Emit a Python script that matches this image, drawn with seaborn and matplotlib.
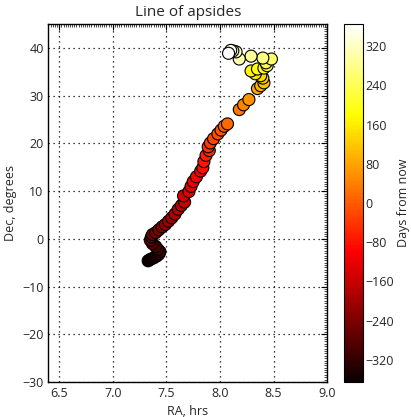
import numpy as np
import pandas as pd
import seaborn as sns
import matplotlib.pyplot as plt
from matplotlib.ticker import MultipleLocator
from matplotlib.colors import Normalize
from matplotlib.cm import ScalarMappable

# posicoes (RA em horas, Dec em graus) e dias
ra = [7.33, 7.35, 7.38, 7.41, 7.43, 7.44, 7.42, 7.40, 7.37, 7.35, 7.36, 7.37, 7.40, 7.43, 7.46, 7.49, 7.52,
      7.55, 7.58, 7.61, 7.64, 7.67, 7.66, 7.71, 7.73, 7.75, 7.78, 7.82, 7.84, 7.85, 7.87, 7.90, 7.89, 7.91, 7.94, 7.98,
      8.01, 8.04, 8.07, 8.18, 8.22, 8.27, 8.35, 8.38, 8.41, 8.40, 8.38, 8.33, 8.29, 8.35, 8.41,
      8.44, 8.43, 8.48, 8.40, 8.29, 8.18, 8.15, 8.12, 8.10, 8.08]
dec = [-4.6, -4.3, -4.0, -3.6, -3.2, -2.7, -2.2, -1.6, -1.0, -0.3, 0.4, 0.9, 1.3, 1.9, 2.5, 3.0, 3.7,
       4.4, 5.2, 6.2, 7.0, 7.7, 9.0, 9.9, 11.0, 12.0, 13.0, 14.2, 14.9, 16.2, 17.5, 18.5, 19.3, 20.1, 21.0, 22.0,
       22.8, 23.6, 24.1, 27.1, 28.1, 29.2, 31.5, 32.1, 32.7, 33.7, 34.2, 34.6, 35.2, 35.6, 35.8,
       36.3, 36.9, 37.7, 37.9, 38.3, 37.7, 39.2, 39.4, 39.5, 38.9]
days = [-365, -355, -345, -335, -325, -315, -305, -295, -285, -275, -265, -255, -245, -235, -225, -215, -205,
        -195, -185, -175, -165, -155, -145, -135, -125, -115, -105, -95, -85, -75, -65, -55, -45, -35, -25, -15,
        -5, 5, 15, 30, 45, 60, 80, 95, 110, 125, 140, 155, 170, 185, 200,
        215, 230, 250, 270, 290, 305, 320, 335, 350, 365]
cbar_ticks = [-320, -240, -160, -80, 0, 80, 160, 240, 320]

dados = pd.DataFrame({'RA': ra, 'Dec': dec, 'Dias': days})

sns.set_style("white")
plt.rcParams['font.family'] = ['Open Sans', 'DejaVu Sans']

fig = plt.figure(figsize=(4.11, 4.17), dpi=100)
ax = fig.add_axes([0.118, 0.084, 0.678, 0.858])
cax = fig.add_axes([0.837, 0.084, 0.046, 0.858])

norma = Normalize(-365, 365)
sns.scatterplot(data=dados, x='RA', y='Dec', hue='Dias', palette='hot', hue_norm=norma,
                s=75, edgecolor='black', linewidth=0.8, legend=False, ax=ax)

ax.set_xlim(6.4, 9.0)
ax.set_ylim(-30, 45)
ax.xaxis.set_major_locator(MultipleLocator(0.5))
ax.yaxis.set_major_locator(MultipleLocator(10))
ax.xaxis.set_minor_locator(MultipleLocator(0.02))
ax.yaxis.set_minor_locator(MultipleLocator(0.5))
ax.tick_params(which='both', direction='in', top=True, right=True, labelsize=9, color='black')
ax.tick_params(which='major', length=4)
ax.tick_params(which='minor', length=2, width=0.5)
ax.grid(True, linestyle=(0, (1, 3)), color='black', linewidth=0.9)
for s in ax.spines.values():
    s.set_color('black')
    s.set_linewidth(1)
ax.set_title("Line of apsides", fontsize=11)
ax.set_xlabel("RA, hrs", fontsize=9)
ax.set_ylabel("Dec, degrees", fontsize=9)

cb = fig.colorbar(ScalarMappable(norm=norma, cmap='hot'), cax=cax, ticks=cbar_ticks)
cb.outline.set_edgecolor('black')
cb.ax.tick_params(direction='in', length=4, labelsize=9, color='black', pad=2)
cb.set_label("Days from now", fontsize=9, labelpad=2)

fig.savefig('out.png', dpi=100)
